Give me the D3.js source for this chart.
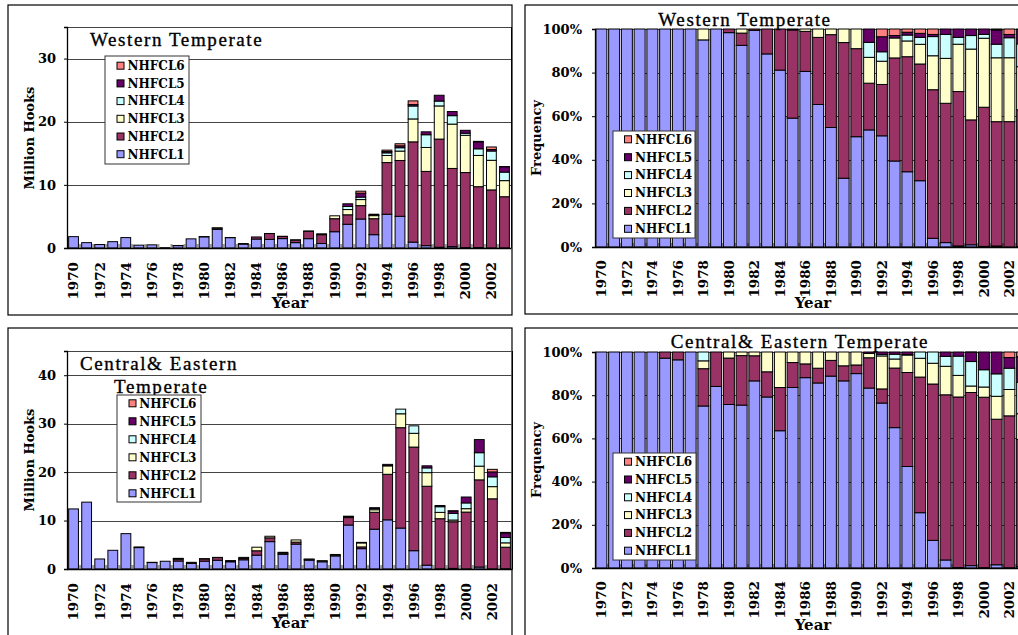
<!DOCTYPE html>
<html>
<head>
<meta charset="utf-8">
<script src="https://cdn.jsdelivr.net/npm/d3@7"></script>
<style>
  body { margin: 0; background: #fff; }
  svg { display: block; }
</style>
</head>
<body>
<svg id="chart" width="1018" height="635"></svg>
<script>
// Hook counts (million hooks) by hook-class, 1970-2003
const years = [1970,1971,1972,1973,1974,1975,1976,1977,1978,1979,1980,1981,1982,1983,1984,1985,1986,
               1987,1988,1989,1990,1991,1992,1993,1994,1995,1996,1997,1998,1999,2000,2001,2002,2003];
const yearTicks = [1970,1972,1974,1976,1978,1980,1982,1984,1986,1988,1990,1992,1994,1996,1998,2000,2002];
const classes = ["NHFCL1","NHFCL2","NHFCL3","NHFCL4","NHFCL5","NHFCL6"];
const classColors = ["#9999ff","#993366","#ffffcc","#ccffff","#660066","#ff8080"];

// Western Temperate
const westCL1 = [1.8,0.85,0.55,1.0,1.65,0.45,0.5,0.05,0.38,1.45,1.77,2.96,1.64,0.62,1.42,1.36,1.49,
                 0.85,1.48,0.71,2.58,3.76,4.59,2.11,5.35,5.02,0.93,0.37,0.12,0.22,0.05,0.08,0,0.02];
const westCL2 = [0,0,0,0,0,0,0,0,0,0,0.03,0.18,0.01,0.08,0.33,0.93,0.34,
                 0.40,1.15,1.40,2.06,1.50,2.12,2.53,8.18,8.84,15.88,11.76,17.13,12.38,11.9,9.63,9.2,8.1];
const westCL3 = [0,0,0,0,0,0,0,0,0.02,0,0,0.06,0,0,0,0.01,0.02,
                 0.05,0.07,0.14,0.46,0.83,0.96,0.49,1.12,1.49,3.63,3.79,5.25,7.02,5.9,4.95,4.69,2.55];
const westCL4 = [0,0,0,0,0,0,0,0,0,0,0,0,0,0,0,0,0,
                 0,0,0,0,0.48,0.39,0,0.42,0.53,2.05,2.02,0.77,1.34,0.33,1.05,1.47,1.35];
const westCL5 = [0,0,0,0,0,0,0,0,0,0,0,0,0,0,0,0,0,
                 0,0,0,0,0.43,0.62,0.06,0.20,0.30,0.23,0.46,0.92,0.65,0.46,1.10,0.24,0.85];
const westCL6 = [0,0,0,0,0,0,0,0,0,0,0,0,0,0,0,0,0,
                 0,0,0,0,0,0.32,0.16,0.23,0.33,0.58,0,0,0,0,0.08,0.4,0.03];

// Central & Eastern Temperate
const centCL1 = [12.4,13.8,2.07,3.86,7.3,4.42,1.33,1.6,1.65,1.16,1.62,1.81,1.49,1.9,2.86,5.65,3.04,
                 5.14,1.83,1.49,2.7,9.08,4.2,8.22,10.15,8.45,3.78,0.79,0.03,0.13,0.02,0.4,0.02,0.05];
const centCL2 = [0,0,0,0,0,0.13,0.05,0,0.38,0.22,0.46,0.55,0.2,0.28,0.9,0.78,0.22,
                 0.41,0.15,0.12,0.12,1.53,0.36,3.49,9.4,20.72,21.39,16.29,10.35,9.62,11.73,18.0,14.47,4.45];
const centCL3 = [0,0,0,0,0,0,0,0,0.08,0,0.06,0.04,0.03,0.22,0.74,0.33,0.19,
                 0.45,0.08,0.11,0.18,0.22,0.84,0.53,1.75,2.87,2.84,2.81,1.31,0.36,0.7,2.83,2.51,0.9];
const centCL4 = [0,0,0,0,0,0,0,0,0.09,0,0,0,0,0,0,0,0,
                 0,0,0,0,0,0.04,0.28,0.04,0.96,1.54,0.98,1.17,1.36,1.19,2.78,2.03,1.1];
const centCL5 = [0,0,0,0,0,0,0,0,0,0,0,0,0,0,0,0,0,
                 0,0,0,0,0.07,0.06,0.13,0.26,0,0,0.43,0.25,0.52,1.22,2.7,1.01,0.9];
const centCL6 = [0,0,0,0,0,0,0,0,0,0,0,0,0,0,0,0,0,
                 0,0,0,0,0,0,0,0,0,0,0,0,0.01,0,0,0.53,0.16];

const hookTicksWest = [0,10,20,30];
const hookTicksCent = [0,10,20,30,40];
const freqTicks = [0,0.2,0.4,0.6,0.8,1];

function buildRows(series) {
  return years.map((yr, i) => {
    const row = { year: yr };
    classes.forEach((c, k) => { row[c] = series[k][i]; });
    return row;
  });
}

const westRows = buildRows([westCL1, westCL2, westCL3, westCL4, westCL5, westCL6]);
const centRows = buildRows([centCL1, centCL2, centCL3, centCL4, centCL5, centCL6]);

const color = d3.scaleOrdinal().domain(classes).range(classColors);
const svg = d3.select("#chart");

const TICK_FONT = "'DejaVu Serif', serif";
const TITLE_FONT = "'Liberation Serif', 'Times New Roman', serif";

function drawPanel(cfg) {
  const g = svg.append("g");

  // outer frame
  g.append("rect")
    .attr("x", cfg.frame[0]).attr("y", cfg.frame[1])
    .attr("width", cfg.frame[2] - cfg.frame[0]).attr("height", cfg.frame[3] - cfg.frame[1])
    .attr("fill", "#fff").attr("stroke", "#000").attr("stroke-width", 1.2);

  const p = cfg.plot;
  const x = d3.scaleBand().domain(years).range([p.l, p.r])
    .paddingInner(cfg.padIn).paddingOuter(cfg.padIn / 2);
  const y = d3.scaleLinear().domain([0, cfg.max]).range([p.b, p.t]);

  const stack = d3.stack().keys(classes);
  if (cfg.expand) stack.offset(d3.stackOffsetExpand);
  const layers = stack(cfg.rows);

  // gridlines
  g.append("g").selectAll("line")
    .data(cfg.ticks.filter(t => t > 0))
    .join("line")
    .attr("x1", p.l).attr("x2", p.r)
    .attr("y1", d => Math.round(y(d)) + 0.5).attr("y2", d => Math.round(y(d)) + 0.5)
    .attr("stroke", "#444").attr("stroke-width", 1);

  // plot top border
  g.append("line")
    .attr("x1", p.l).attr("x2", p.r)
    .attr("y1", p.t + 0.5).attr("y2", p.t + 0.5)
    .attr("stroke", "#444").attr("stroke-width", 1);
  // plot right border
  g.append("line")
    .attr("x1", p.r + 0.5).attr("x2", p.r + 0.5)
    .attr("y1", p.t).attr("y2", p.b)
    .attr("stroke", "#000").attr("stroke-width", 1);

  // grey marks between categories along the base
  const step = x.step();
  g.append("g").selectAll("line")
    .data(years.slice(1))
    .join("line")
    .attr("x1", d => x(d) - step * x.paddingInner() / 2)
    .attr("x2", d => x(d) - step * x.paddingInner() / 2)
    .attr("y1", p.b - 4).attr("y2", p.b)
    .attr("stroke", "#999").attr("stroke-width", 2);

  // stacked bars
  g.append("g").selectAll("g")
    .data(layers)
    .join("g")
    .attr("fill", d => color(d.key))
    .selectAll("rect")
    .data(d => d.filter(s => s[1] - s[0] > 0))
    .join("rect")
    .attr("x", d => x(d.data.year))
    .attr("width", x.bandwidth())
    .attr("y", d => y(d[1]))
    .attr("height", d => y(d[0]) - y(d[1]))
    .attr("stroke", "#000").attr("stroke-width", 1);

  // y axis
  const yAxis = d3.axisLeft(y).tickValues(cfg.ticks).tickSize(3).tickPadding(cfg.tickPad)
    .tickFormat(cfg.expand ? d3.format(".0%") : d3.format("d"));
  const ya = g.append("g").attr("transform", `translate(${p.l},0)`).call(yAxis);
  ya.select(".domain").attr("stroke", "#000").attr("stroke-width", 1.3);
  ya.selectAll(".tick line").attr("stroke", "#000");
  ya.selectAll("text").attr("font-family", TICK_FONT).attr("font-weight", "bold")
    .attr("font-size", 13).attr("fill", "#000");

  // x axis
  const xAxis = d3.axisBottom(x).tickValues(yearTicks).tickSize(0).tickPadding(0);
  const xa = g.append("g").attr("transform", `translate(0,${p.b})`).call(xAxis);
  xa.select(".domain").attr("stroke", "#000").attr("stroke-width", 1.3);
  xa.selectAll("text")
    .attr("transform", "rotate(-90)")
    .attr("x", -cfg.xLabelGap).attr("y", 0).attr("dy", "0.36em")
    .style("text-anchor", "end")
    .attr("font-family", TICK_FONT).attr("font-weight", "bold")
    .attr("font-size", 13.5).attr("fill", "#000");

  // axis titles
  g.append("text")
    .attr("x", cfg.yearPos[0]).attr("y", cfg.yearPos[1])
    .attr("text-anchor", "middle")
    .attr("font-family", TICK_FONT).attr("font-weight", "bold").attr("font-size", 15)
    .text("Year");
  g.append("text")
    .attr("transform", `translate(${cfg.yTitlePos[0]},${cfg.yTitlePos[1]}) rotate(-90)`)
    .attr("text-anchor", "middle")
    .attr("font-family", TICK_FONT).attr("font-weight", "bold").attr("font-size", 13)
    .text(cfg.yTitle);

  // panel title
  cfg.title.forEach(t => {
    g.append("text")
      .attr("x", t.x).attr("y", t.y)
      .attr("text-anchor", t.anchor || "start")
      .attr("font-family", TITLE_FONT).attr("font-size", 19)
      .attr("letter-spacing", t.ls)
      .attr("stroke", "#000").attr("stroke-width", 0.35)
      .text(t.text);
  });

  // legend
  const L = cfg.legend;
  const lg = g.append("g");
  lg.append("rect")
    .attr("x", L.x0).attr("y", L.y0)
    .attr("width", L.x1 - L.x0).attr("height", L.y1 - L.y0)
    .attr("fill", "#fff").attr("stroke", "#333").attr("stroke-width", 1);
  const order = classes.slice().reverse();
  const items = lg.selectAll("g.item").data(order).join("g").attr("class", "item")
    .attr("transform", (d, i) => `translate(${L.sx},${L.firstY + i * L.dy})`);
  items.append("rect")
    .attr("x", 0).attr("y", -3.5).attr("width", 7).attr("height", 7)
    .attr("fill", d => color(d)).attr("stroke", "#000").attr("stroke-width", 1);
  items.append("text")
    .attr("x", L.tx - L.sx).attr("y", 0).attr("dy", "0.36em")
    .attr("font-family", TICK_FONT).attr("font-weight", "bold").attr("font-size", 12)
    .text(d => d);
}

// Western Temperate — hooks
drawPanel({
  frame: [8, 5, 512, 315],
  plot: { l: 67, r: 511, t: 27, b: 248 },
  rows: westRows, expand: false, max: 35, ticks: hookTicksWest,
  padIn: 0.25, tickPad: 8, xLabelGap: 14,
  yearPos: [290, 308], yTitlePos: [34, 138], yTitle: "Million Hooks",
  title: [{ text: "Western Temperate", x: 90, y: 46, ls: 1.6 }],
  legend: { x0: 105, y0: 56, x1: 189, y1: 164, sx: 117, tx: 127.5, firstY: 65.7, dy: 17.7 }
});

// Western Temperate — frequency
drawPanel({
  frame: [525, 5, 1040, 314],
  plot: { l: 595, r: 1028.5, t: 29, b: 247 },
  rows: westRows, expand: true, max: 1, ticks: freqTicks,
  padIn: 0.14, tickPad: 10, xLabelGap: 13,
  yearPos: [813, 308], yTitlePos: [541, 138], yTitle: "Frequency",
  title: [{ text: "Western Temperate", x: 745, y: 26, ls: 1.6, anchor: "middle" }],
  legend: { x0: 613, y0: 131, x1: 695, y1: 238, sx: 624.5, tx: 635, firstY: 139.3, dy: 17.9 }
});

// Central & Eastern Temperate — hooks
drawPanel({
  frame: [8, 328, 512, 645],
  plot: { l: 67, r: 512, t: 351, b: 569 },
  rows: centRows, expand: false, max: 45, ticks: hookTicksCent,
  padIn: 0.25, tickPad: 8, xLabelGap: 14,
  yearPos: [290, 628], yTitlePos: [34, 460], yTitle: "Million Hooks",
  title: [{ text: "Central& Eastern", x: 80, y: 370, ls: 1.6 },
          { text: "Temperate", x: 114, y: 393, ls: 1.6 }],
  legend: { x0: 117, y0: 395, x1: 201, y1: 502, sx: 129, tx: 139.3, firstY: 403.3, dy: 18 }
});

// Central & Eastern Temperate — frequency
drawPanel({
  frame: [525, 328, 1040, 645],
  plot: { l: 595, r: 1028.5, t: 352, b: 568 },
  rows: centRows, expand: true, max: 1, ticks: freqTicks,
  padIn: 0.14, tickPad: 10, xLabelGap: 13,
  yearPos: [813, 630], yTitlePos: [541, 460], yTitle: "Frequency",
  title: [{ text: "Central& Eastern Temperate", x: 800, y: 348, ls: 1.6, anchor: "middle" }],
  legend: { x0: 613, y0: 453, x1: 696, y1: 560, sx: 624.5, tx: 635, firstY: 461.7, dy: 17.8 }
});
</script>
</body>
</html>
